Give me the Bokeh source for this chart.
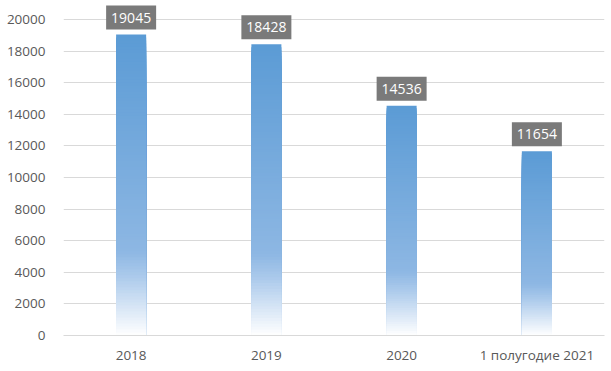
from bokeh.plotting import figure
from bokeh.models import FixedTicker, Range1d, ColumnDataSource
from bokeh.embed import file_html
from bokeh.resources import INLINE
from bokeh.core.properties import value

categories = ["2018", "2019", "2020", "1 полугодие 2021"]
values = [19045, 18428, 14536, 11654]
y_ticks = [0, 2000, 4000, 6000, 8000, 10000, 12000, 14000, 16000, 18000, 20000]

FONT = "Open Sans"
FRAME_H = 335
Y_END = 21203

p = figure(x_range=categories, width=608, height=368, output_backend="svg",
           toolbar_location=None, min_border_left=63, min_border_right=4,
           min_border_top=0, min_border_bottom=33)
p.y_range = Range1d(0, Y_END)
p.x_range.range_padding = 0
p.outline_line_color = None
p.background_fill_color = "white"
p.border_fill_color = "white"

# gradient stops (fraction from top, rgb)
stops = [(0.0, (91, 155, 213)), (0.72, (141, 183, 227)), (0.8, (170, 201, 235)), (1.0, (255, 255, 255))]

def color_at(t):
    for (t0, c0), (t1, c1) in zip(stops[:-1], stops[1:]):
        if t0 <= t <= t1:
            f = (t - t0) / (t1 - t0)
            c = [int(round(a + (b - a) * f)) for a, b in zip(c0, c1)]
            return "#%02x%02x%02x" % tuple(c)
    return "#ffffff"

N = 100
xs, tops, cols = [], [], []
for i in range(N):
    for cat, v in zip(categories, values):
        xs.append(cat)
        tops.append(v * (1 - i / N))
        cols.append(color_at((i + 0.5) / N))

src = ColumnDataSource(dict(x=xs, top=tops, color=cols))
p.vbar(x="x", top="top", bottom=0, width=0.222, fill_color="color",
       line_color=None, source=src)

# data labels
px_per_unit = FRAME_H / Y_END
off = 17 / px_per_unit
lab = ColumnDataSource(dict(x=categories, y=[v + off for v in values],
                            text=[str(v) for v in values]))
p.rect(x="x", y="y", width=50, height=24, width_units="screen", height_units="screen",
       fill_color="#7a7a7a", line_color=None, source=lab)
p.text(x="x", y="y", text="text", text_align="center", text_baseline="middle",
       text_color="white", text_font=value(FONT), text_font_size="14px", source=lab)

p.yaxis.ticker = FixedTicker(ticks=y_ticks)
p.ygrid.ticker = FixedTicker(ticks=y_ticks)
p.ygrid.grid_line_color = "#d9d9d9"
p.xgrid.grid_line_color = None

for ax in (p.xaxis, p.yaxis):
    ax.major_tick_line_color = None
    ax.minor_tick_line_color = None
    ax.major_label_text_font = FONT
    ax.major_label_text_font_size = "13.5px"
    ax.major_label_text_color = "#595959"
p.yaxis.axis_line_color = None
p.yaxis.major_label_standoff = 12
p.xaxis.axis_line_color = "#d9d9d9"
p.xaxis.major_label_standoff = 4

open("out.html", "w").write(file_html(p, INLINE))
